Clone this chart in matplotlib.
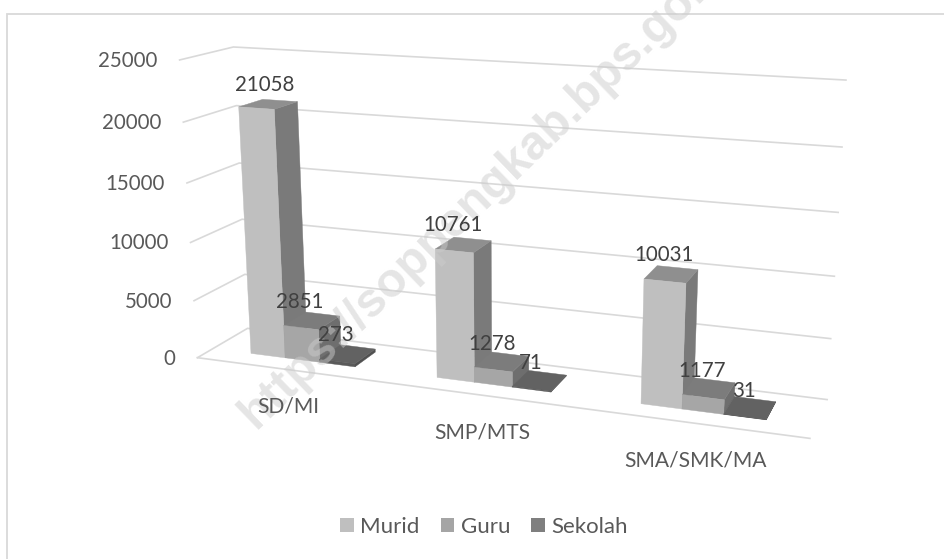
import numpy as np
import matplotlib
matplotlib.use("Agg")
import matplotlib.pyplot as plt
from matplotlib.patches import Polygon, Patch

categories = ["SD/MI", "SMP/MTS", "SMA/SMK/MA"]
series_names = ["Murid", "Guru", "Sekolah"]
murid = [21058, 10761, 10031]
guru = [2851, 1278, 1177]
sekolah = [273, 71, 31]
y_ticks = [0, 5000, 10000, 15000, 20000, 25000]
y_max = 25000

front_cols = ["#BFBFBF", "#A5A5A5", "#7F7F7F"]
face_cols = ["#BFBFBF", "#A6A6A6", "#5A5A5A"]
top_cols = ["#8F8F8F", "#7C7C7C", "#626262"]
side_cols = ["#7A7A7A", "#6E6E6E", "#505050"]
grid_col = "#D9D9D9"
tick_col = "#595959"
label_col = "#404040"
FONT = "Lato"
FS = 14.8

# Camera: fitted from the box corners (t along categories, d depth, z height 0-1) to pixels
anchors = [
    ((0, 0, 0), (197, 358)), ((0, 0, 1), (180, 60)),
    ((0, 1, 0), (248, 328)), ((0, 1, 1), (233, 47)),
    ((1, 1, 0), (827, 400)), ((1, 1, 1), (846, 80)),
    ((1, 0, 0), (810, 438)),
]
A, b = [], []
for (X, Y, Z), (u, v) in anchors:
    A.append([X, Y, Z, 1, 0, 0, 0, 0, -u * X, -u * Y, -u * Z]); b.append(u)
    A.append([0, 0, 0, 0, X, Y, Z, 1, -v * X, -v * Y, -v * Z]); b.append(v)
sol = np.linalg.lstsq(np.array(A, float), np.array(b, float), rcond=None)[0]
P = np.append(sol, 1.0).reshape(3, 4)


def project(cat, depth, value):
    """Map (category position 0-3, depth 0-1, value) to pixel coordinates."""
    h = P @ np.array([cat / 3.0, depth, value / y_max, 1.0])
    return h[0] / h[2], h[1] / h[2]


fig = plt.figure(figsize=(9.44, 5.59), dpi=100)
ax = fig.add_axes([0, 0, 1, 1])
ax.set_xlim(0, 944)
ax.set_ylim(559, 0)
ax.axis("off")

# chart frame (only top and left are inside the crop)
ax.plot([6.5, 6.5, 944], [559, 14, 14], color=grid_col, lw=1.3, zorder=1, solid_joinstyle="miter")

# gridlines on the side and back walls
for val in y_ticks:
    pts = [project(0, 0, val), project(0, 1, val), project(3, 1, val)]
    ax.plot(*zip(*pts), color=grid_col, lw=1.2, zorder=1.5)
    x, y = pts[0]
    ax.text(x - 22, y + 1, str(val), ha="right", va="center", color=tick_col,
            family=FONT, fontsize=FS, zorder=6)
ax.plot(*zip(project(0, 0, 0), project(3, 0, 0)), color=grid_col, lw=1.2, zorder=1.5)

bar_w = 0.19
d0, d1 = 0.30, 0.77
all_vals = [murid, guru, sekolah]
label_nudge = {21058: (9, 3)}
zo = 2.0
for c, cat in enumerate(categories):
    left = c + 0.5 - 1.5 * bar_w
    for s, vals in enumerate(all_vals):
        val = vals[c]
        a, e = left + s * bar_w, left + (s + 1) * bar_w
        side = [project(e, d0, 0), project(e, d1, 0), project(e, d1, val), project(e, d0, val)]
        top = [project(a, d0, val), project(e, d0, val), project(e, d1, val), project(a, d1, val)]
        front = [project(a, d0, 0), project(e, d0, 0), project(e, d0, val), project(a, d0, val)]
        ax.add_patch(Polygon(side, closed=True, fc=side_cols[s], ec=side_cols[s], lw=0.3, zorder=zo))
        ax.add_patch(Polygon(top, closed=True, fc=top_cols[s], ec=top_cols[s], lw=0.3, zorder=zo))
        ax.add_patch(Polygon(front, closed=True, fc=face_cols[s], ec=face_cols[s], lw=0.3, zorder=zo))
        zo += 0.01
        tx, ty = project((a + e) / 2, d0, val)
        nx, ny = label_nudge.get(val, (0, 0))
        ax.text(tx - 1 + nx, ty - 26 + ny, str(val), ha="center", va="center", color=label_col,
                family=FONT, fontsize=FS, zorder=7)
    lx, ly = project(c + 0.5, 0, 0)
    ax.text(lx, ly + 37, cat, ha="center", va="center", color=tick_col,
            family=FONT, fontsize=15.1, zorder=6)

# watermark
ax.text(247, 421, "https://soppengkab.bps.go.id", rotation=44, rotation_mode="anchor",
        ha="left", va="center", color="#CCCCCC", alpha=0.5, family="Liberation Sans",
        fontweight="bold", fontsize=34.6, zorder=5, clip_on=True)

handles = [Patch(fc=col, ec="none") for col in front_cols]
leg = ax.legend(handles, series_names, loc="center", bbox_to_anchor=(484, 527),
                bbox_transform=ax.transData, ncols=3, frameon=False,
                prop={"family": FONT, "size": 16}, labelcolor=tick_col,
                handlelength=0.62, handleheight=0.62, handletextpad=0.28,
                columnspacing=0.95, borderpad=0)

fig.savefig("out.png", dpi=100)
